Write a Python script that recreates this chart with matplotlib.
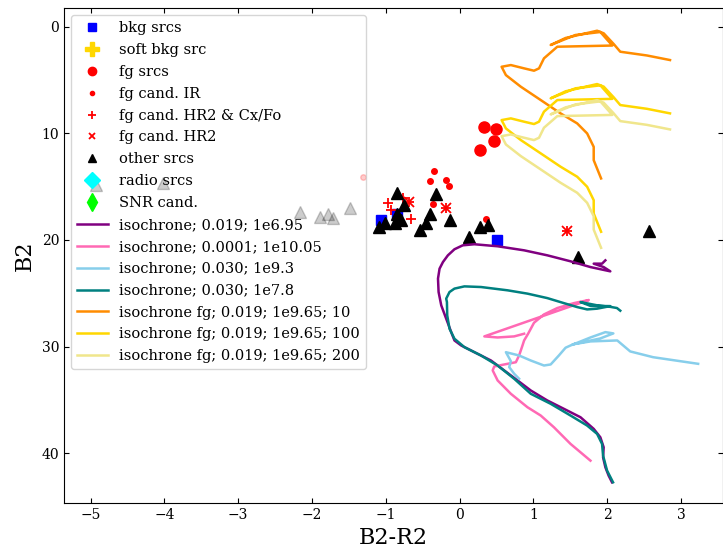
import numpy as np
import matplotlib
matplotlib.use("Agg")
import matplotlib.pyplot as plt

plt.rcParams['font.family'] = ['DejaVu Serif']

# ---- source points (B2-R2 colour, B2 magnitude) ----
bkg_col = [-1.066, -0.841, 0.503]
bkg_mag = [18.12, 17.52, 20.00]

soft_col = []
soft_mag = []

fg_col = [0.332, 0.489, 0.470, 0.274]
fg_mag = [9.40, 9.59, 10.75, 11.53]

ir_col = [-0.352, -0.396, -0.181, -0.137, -0.360, 0.363]
ir_mag = [13.50, 14.50, 14.33, 14.92, 16.58, 18.00]

cxfo_col = [-0.976, -0.931, -0.764, -0.652, -0.679, -0.185, 1.460]
cxfo_mag = [16.56, 17.23, 16.03, 18.03, 16.48, 17.00, 19.13]

hr2_col = [-0.679, -0.185, 1.460]
hr2_mag = [16.48, 17.00, 19.13]

other_col = [-0.841, -0.325, -0.756, -0.848, -0.399, -0.787, -0.461, -0.133,
             -1.012, -0.871, -1.093, -0.542, 0.274, 0.381, 0.132, 1.609, 2.565]
other_mag = [15.57, 15.69, 16.69, 17.52, 17.52, 18.12, 18.41, 18.17,
             18.45, 18.45, 18.78, 19.02, 18.81, 18.59, 19.69, 21.61, 19.13]

radio_col = []
radio_mag = []
snr_col = []
snr_mag = []

# sources outside the field, shown faded
faint_other_col = [-4.925, -4.022, -2.166, -1.896, -1.788, -1.721, -1.488]
faint_other_mag = [14.84, 14.65, 17.40, 17.82, 17.59, 17.97, 17.03]
faint_ir_col = [-1.309]
faint_ir_mag = [14.09]

# ---- isochrones ----
iso1_col = [2.066, 2.020, 1.976, 1.945, 1.953, 1.908, 1.818, 1.639, 1.414, 1.190,
            0.965, 0.786, 0.605, 0.426, 0.201, 0.022, -0.069, -0.113, -0.181, -0.248,
            -0.284, -0.292, -0.271, -0.225, -0.158, -0.069, 0.044, 0.201, 0.516, 0.875,
            1.190, 1.504, 1.774, 2.043, 1.953, 1.818, 1.931, 1.976]
iso1_mag = [42.72, 42.09, 41.31, 40.38, 39.44, 38.50, 37.71, 36.62, 35.83, 35.05,
            34.11, 33.17, 32.23, 31.30, 30.52, 29.89, 29.42, 28.64, 27.38, 26.13,
            24.88, 23.62, 22.69, 22.07, 21.44, 20.87, 20.50, 20.40, 20.59, 20.97,
            21.44, 22.00, 22.54, 22.94, 22.54, 22.22, 22.22, 21.91]

iso2_col = [1.774, 1.504, 1.279, 1.100, 0.920, 0.695, 0.516, 0.449, 0.470, 0.651,
            0.763, 0.807, 0.853, 0.875, 0.929, 1.009, 1.144, 1.325, 1.549, 1.751,
            0.336, 0.516, 0.740, 0.875]
iso2_mag = [40.69, 39.12, 37.56, 36.46, 35.68, 34.42, 33.17, 32.23, 31.86, 31.61,
            31.46, 30.83, 29.89, 29.42, 28.79, 27.76, 26.98, 26.38, 25.92, 25.63,
            29.04, 29.14, 29.04, 28.79]

iso3_col = [0.807, 0.740, 0.673, 0.695, 0.628, 0.807, 0.965, 1.144, 1.235, 1.346,
            1.437, 1.504, 1.774, 1.976, 2.084, 1.908, 1.531, 1.774, 2.137, 2.313,
            2.623, 3.233]
iso3_mag = [33.01, 32.54, 31.92, 31.36, 30.52, 30.83, 31.30, 31.77, 31.67, 30.83,
            30.10, 29.89, 29.14, 28.64, 28.76, 29.23, 29.79, 29.51, 29.42, 30.45,
            30.99, 31.61]

iso4_col = [2.080, 1.999, 1.945, 1.931, 1.864, 1.729, 1.504, 1.235, 0.965, 0.740,
            0.516, 0.291, 0.066, -0.069, -0.136, -0.167, -0.171, -0.181, -0.136, -0.069,
            0.066, 0.291, 0.651, 0.920, 1.190, 1.414, 1.594, 1.729, 1.864, 2.043,
            1.774, 1.639, 1.868, 2.043, 2.133, 2.178]
iso4_mag = [42.72, 41.62, 40.22, 39.12, 38.18, 37.40, 36.46, 35.36, 34.42, 33.01,
            31.77, 30.83, 30.05, 29.26, 28.32, 27.07, 25.82, 25.50, 24.88, 24.56,
            24.35, 24.41, 24.72, 25.03, 25.45, 25.92, 26.29, 26.51, 26.44, 26.20,
            26.18, 25.82, 26.13, 26.27, 26.38, 26.63]

# foreground isochrone in absolute magnitudes (as seen at 10 pc)
fgiso_col = [1.918, 1.818, 1.818, 1.729, 1.594, 1.369, 1.100, 0.830, 0.628, 0.570,
             0.695, 0.875, 1.009, 1.077, 1.144, 1.325, 2.070, 1.908, 1.571, 1.235,
             1.437, 1.864, 1.953, 2.088, 2.178, 2.538, 2.852]
fgiso_absmag = [14.23, 12.52, 11.27, 10.01, 9.07, 8.13, 6.88, 5.63, 4.54, 3.76,
                3.60, 3.91, 4.13, 3.91, 2.97, 1.88, 1.77, 0.50, 0.78, 1.72,
                1.06, 0.38, 0.62, 1.62, 2.35, 2.70, 3.13]
fg_dist = [10, 100, 200]
fg_colors = ['darkorange', 'gold', 'khaki']

fig = plt.figure(figsize=(7.23, 5.49), dpi=100)
ax = fig.add_axes([64 / 723, 46 / 549, 659 / 723, 495 / 549])

ax.plot(bkg_col, bkg_mag, 's', color='blue', ms=7, label='bkg srcs')
ax.plot(soft_col, soft_mag, 'P', color='gold', ms=13, label='soft bkg src')
ax.plot(fg_col, fg_mag, 'o', color='red', ms=8, label='fg srcs')
ax.plot(ir_col, ir_mag, 'o', color='red', ms=4, label='fg cand. IR')
ax.plot(cxfo_col, cxfo_mag, '+', color='red', ms=7.5, mew=1.3,
        label='fg cand. HR2 & Cx/Fo')
ax.plot(hr2_col, hr2_mag, 'x', color='red', ms=6.5, mew=1.3, label='fg cand. HR2')
ax.plot(other_col, other_mag, '^', color='black', ms=8, label='other srcs')
ax.plot(radio_col, radio_mag, 'D', color='cyan', ms=11, label='radio srcs')
ax.plot(snr_col, snr_mag, 'd', color='lime', ms=12, label='SNR cand.')

ax.plot(faint_other_col, faint_other_mag, '^', color='black', alpha=0.2, ms=8)
ax.plot(faint_ir_col, faint_ir_mag, 'o', color='red', alpha=0.2, ms=4)

lw = 1.8
ax.plot(iso1_col, iso1_mag, color='purple', lw=lw, label='isochrone; 0.019; 1e6.95')
ax.plot(iso2_col, iso2_mag, color='hotpink', lw=lw, label='isochrone; 0.0001; 1e10.05')
ax.plot(iso3_col, iso3_mag, color='skyblue', lw=lw, label='isochrone; 0.030; 1e9.3')
ax.plot(iso4_col, iso4_mag, color='teal', lw=lw, label='isochrone; 0.030; 1e7.8')
for d, c in zip(fg_dist, fg_colors):
    # shift by the distance modulus
    mag = np.array(fgiso_absmag) + 5 * np.log10(d / 10)
    ax.plot(fgiso_col, mag, color=c, lw=lw,
            label='isochrone fg; 0.019; 1e9.65; %d' % d)

ax.set_xlim(-5.36, 3.57)
ax.set_ylim(44.66, -1.75)
ax.set_xticks(np.arange(-5, 4, 1))
ax.set_yticks(np.arange(0, 41, 10))
ax.tick_params(direction='in', top=True, right=True, labelsize=10)
ax.set_xlabel('B2-R2', fontsize=16)
ax.set_ylabel('B2', fontsize=16)

ax.legend(loc='upper left', fontsize=10.5, facecolor='none', handlelength=2.1,
          markerscale=0.75, labelspacing=0.54)

fig.savefig('out.png', dpi=100)
